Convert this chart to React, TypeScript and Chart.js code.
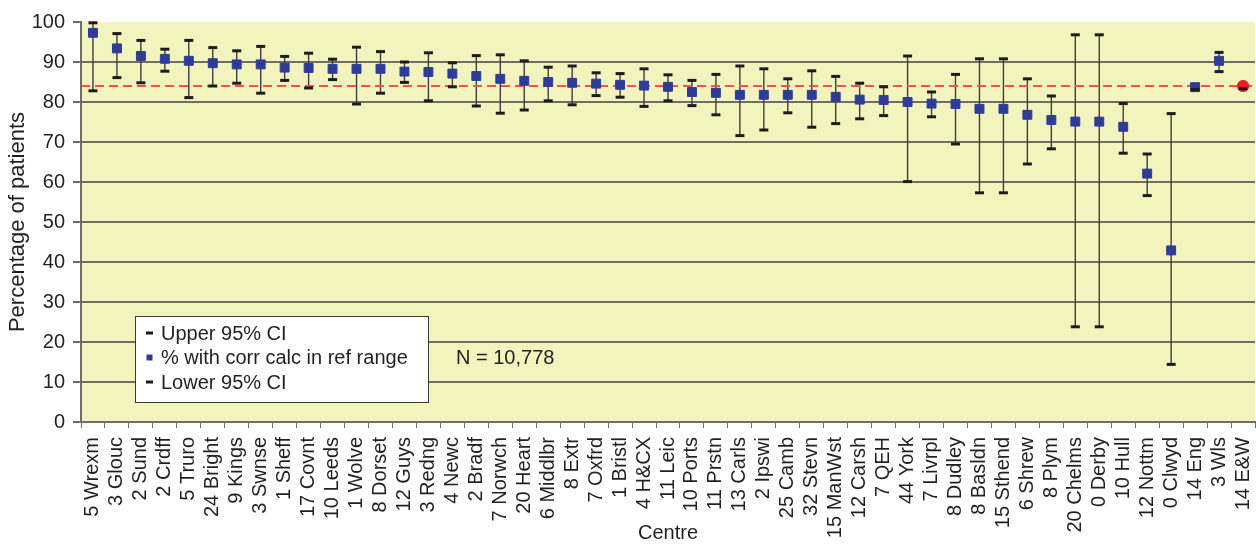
import { useEffect, useRef } from 'react';
import { Chart, registerables } from 'chart.js';

Chart.register(...registerables);

// Renal centres, ordered by the share of patients whose corrected calcium is in range
const centres = [
  '5 Wrexm', '3 Glouc', '2 Sund', '2 Crdff', '5 Truro', '24 Bright', '9 Kings', '3 Swnse',
  '1 Sheff', '17 Covnt', '10 Leeds', '1 Wolve', '8 Dorset', '12 Guys', '3 Redng', '4 Newc',
  '2 Bradf', '7 Norwch', '20 Heart', '6 Middlbr', '8 Extr', '7 Oxfrd', '1 Bristl', '4 H&CX',
  '11 Leic', '10 Ports', '11 Prstn', '13 Carls', '2 Ipswi', '25 Camb', '32 Stevn', '15 ManWst',
  '12 Carsh', '7 QEH', '44 York', '7 Livrpl', '8 Dudley', '8 Basldn', '15 Sthend', '6 Shrew',
  '8 Plym', '20 Chelms', '0 Derby', '10 Hull', '12 Nottm', '0 Clwyd', '14 Eng', '3 Wls', '14 E&W',
];

// % with corrected calcium in the reference range
const pctInRange = [
  97.3, 93.4, 91.5, 90.8, 90.3, 89.7, 89.4, 89.4,
  88.6, 88.5, 88.3, 88.3, 88.3, 87.6, 87.5, 87.1,
  86.5, 85.8, 85.3, 85.0, 84.8, 84.6, 84.3, 84.1,
  83.8, 82.5, 82.3, 81.8, 81.8, 81.8, 81.8, 81.3,
  80.6, 80.5, 80.0, 79.6, 79.5, 78.3, 78.3, 76.8,
  75.5, 75.1, 75.1, 73.8, 62.1, 42.9, 83.7, 90.3, 84.0,
];

const upperCI = [
  99.8, 97.1, 95.4, 93.2, 95.4, 93.6, 92.8, 93.9,
  91.4, 92.2, 90.7, 93.7, 92.6, 90.0, 92.3, 89.8,
  91.6, 91.8, 90.3, 88.7, 89.0, 87.3, 87.1, 88.3,
  86.8, 85.4, 86.9, 89.0, 88.3, 85.8, 87.8, 86.4,
  84.7, 83.8, 91.5, 82.5, 86.9, 90.8, 90.8, 85.8,
  81.5, 96.8, 96.8, 79.6, 67.0, 77.1, 84.4, 92.4, 84.6,
];

const lowerCI = [
  82.8, 86.1, 84.8, 87.7, 81.1, 84.0, 84.7, 82.2,
  85.4, 83.5, 85.6, 79.5, 82.2, 84.9, 80.3, 83.8,
  79.0, 77.2, 78.0, 80.3, 79.3, 81.6, 81.2, 78.9,
  80.3, 79.1, 76.8, 71.6, 73.0, 77.3, 73.7, 74.6,
  75.8, 76.6, 60.1, 76.3, 69.5, 57.3, 57.3, 64.5,
  68.3, 23.8, 23.8, 67.2, 56.6, 14.4, 83.1, 87.6, 83.3,
];

// England & Wales overall level, drawn as the dashed reference line
const englandWalesLevel = 84.0;
const sampleNote = 'N = 10,778';

const FONT = '"Liberation Sans", Arial, Helvetica, sans-serif';
const FONT_SIZE = 20;
const TEXT = '#231f20';
const GRID = '#6e6e64';
const PLOT_BG = '#f2f3bd';
const MARKER_BLUE = '#2d3c97';
const CAP = '#1c1c1c';
const WHISKER = '#3f3f3a';
const REF_RED = '#f0524c';
const EW_RED = '#ec1c24';

const lastIndex = centres.length - 1;

const plotBackground = {
  id: 'plotBackground',
  beforeDraw(chart: any) {
    const { ctx, chartArea } = chart;
    ctx.save();
    ctx.fillStyle = PLOT_BG;
    ctx.fillRect(chartArea.left, chartArea.top, chartArea.right - chartArea.left, chartArea.bottom - chartArea.top);
    ctx.restore();
  },
};

// High-low lines joining the confidence limits, plus the dashed E&W reference line
const whiskersAndReference = {
  id: 'whiskersAndReference',
  beforeDatasetsDraw(chart: any) {
    const { ctx, chartArea } = chart;
    const xs = chart.scales.x;
    const ys = chart.scales.y;
    ctx.save();
    ctx.strokeStyle = WHISKER;
    ctx.lineWidth = 1.4;
    ctx.beginPath();
    for (let i = 0; i < centres.length; i++) {
      const px = xs.getPixelForValue(i);
      ctx.moveTo(px, ys.getPixelForValue(upperCI[i]));
      ctx.lineTo(px, ys.getPixelForValue(lowerCI[i]));
    }
    ctx.stroke();

    const yRef = ys.getPixelForValue(englandWalesLevel);
    ctx.strokeStyle = REF_RED;
    ctx.lineWidth = 2;
    ctx.setLineDash([9, 5]);
    ctx.beginPath();
    ctx.moveTo(chartArea.left, yRef);
    ctx.lineTo(chartArea.right, yRef);
    ctx.stroke();
    ctx.restore();
  },
};

// Boxed legend inside the plot and the sample-size note
const boxedLegend = {
  id: 'boxedLegend',
  afterDraw(chart: any) {
    const { ctx } = chart;
    const ds = chart.data.datasets;
    const box = { x: 135.5, y: 316.5, w: 293, h: 86 };
    ctx.save();
    ctx.fillStyle = '#ffffff';
    ctx.fillRect(box.x, box.y, box.w, box.h);
    ctx.strokeStyle = '#3a3a3a';
    ctx.lineWidth = 1;
    ctx.strokeRect(box.x, box.y, box.w, box.h);

    const rows = [333, 357.5, 382];
    const markerX = 149.5;
    ctx.font = `${FONT_SIZE}px ${FONT}`;
    ctx.textBaseline = 'middle';
    ctx.textAlign = 'left';
    ds.forEach((d: any, i: number) => {
      const y = rows[i];
      if (d.pointStyle === 'line') {
        ctx.fillStyle = CAP;
        ctx.fillRect(markerX - 3.5, y - 1.5, 7, 3);
      } else {
        ctx.fillStyle = MARKER_BLUE;
        ctx.fillRect(markerX - 3, y - 3, 6, 6);
      }
      ctx.fillStyle = TEXT;
      ctx.fillText(d.label, 161, y + 1);
    });

    ctx.fillText(sampleNote, 456, 358);
    ctx.restore();
  },
};

export default function App() {
  const canvasRef = useRef<HTMLCanvasElement | null>(null);

  useEffect(() => {
    const canvas = canvasRef.current;
    if (!canvas) return;

    const meanStyle = centres.map((_, i) => (i === lastIndex ? 'circle' : 'rect'));
    const meanRadius = centres.map((_, i) => (i === lastIndex ? 5.6 : 6.3));
    const meanColour = centres.map((_, i) => (i === lastIndex ? EW_RED : MARKER_BLUE));

    const chart = new Chart(canvas, {
      type: 'line',
      data: {
        labels: centres,
        datasets: [
          {
            label: 'Upper 95% CI',
            data: upperCI,
            showLine: false,
            pointStyle: 'line',
            pointRadius: 4.5,
            pointBorderWidth: 3,
            pointBorderColor: CAP,
            pointBackgroundColor: CAP,
            order: 2,
            clip: false,
          },
          {
            label: '% with corr calc in ref range',
            data: pctInRange,
            showLine: false,
            pointStyle: meanStyle as any,
            pointRadius: meanRadius,
            pointBorderWidth: 1,
            pointBorderColor: meanColour,
            pointBackgroundColor: meanColour,
            order: 1,
            clip: false,
          },
          {
            label: 'Lower 95% CI',
            data: lowerCI,
            showLine: false,
            pointStyle: 'line',
            pointRadius: 4.5,
            pointBorderWidth: 3,
            pointBorderColor: CAP,
            pointBackgroundColor: CAP,
            order: 0,
            clip: false,
          },
        ],
      },
      options: {
        responsive: false,
        animation: false,
        devicePixelRatio: 1,
        events: [],
        layout: { autoPadding: false, padding: { top: 22, right: 1, left: 1, bottom: 0 } },
        plugins: {
          legend: { display: false },
          tooltip: { enabled: false },
        },
        scales: {
          x: {
            type: 'category',
            offset: true,
            grid: {
              offset: true,
              drawOnChartArea: false,
              drawTicks: true,
              tickLength: 6,
              tickColor: GRID,
              lineWidth: 1,
            },
            border: { display: true, color: GRID, width: 2 },
            ticks: {
              autoSkip: false,
              minRotation: 90,
              maxRotation: 90,
              padding: 9,
              color: TEXT,
              font: { family: FONT, size: FONT_SIZE },
            },
            title: {
              display: true,
              text: 'Centre',
              color: TEXT,
              font: { family: FONT, size: FONT_SIZE },
              padding: { top: 0, bottom: 0 },
            },
            afterFit: (scale: any) => {
              scale.height = 123;
              scale.paddingLeft = 0;
              scale.paddingRight = 0;
            },
          },
          y: {
            min: 0,
            max: 100,
            ticks: {
              stepSize: 10,
              padding: 8,
              color: TEXT,
              font: { family: FONT, size: FONT_SIZE },
            },
            grid: {
              color: (c: any) => (c.tick && c.tick.value === 100 ? 'rgba(0,0,0,0)' : GRID),
              tickColor: GRID,
              lineWidth: 2,
              tickLength: 8,
              drawTicks: true,
            },
            border: { display: true, color: GRID, width: 2 },
            title: {
              display: true,
              text: 'Percentage of patients',
              color: TEXT,
              font: { family: FONT, size: 22 },
              padding: { top: 4, bottom: 0 },
            },
            afterFit: (scale: any) => {
              scale.width = 80;
              scale.paddingTop = 0;
              scale.paddingBottom = 0;
            },
          },
        },
      },
      plugins: [plotBackground, whiskersAndReference, boxedLegend],
    });

    return () => chart.destroy();
  }, []);

  return (
    <div style={{ position: 'absolute', left: 0, top: 0, width: 1256, height: 545, background: '#ffffff' }}>
      <canvas ref={canvasRef} width={1256} height={545} />
    </div>
  );
}
